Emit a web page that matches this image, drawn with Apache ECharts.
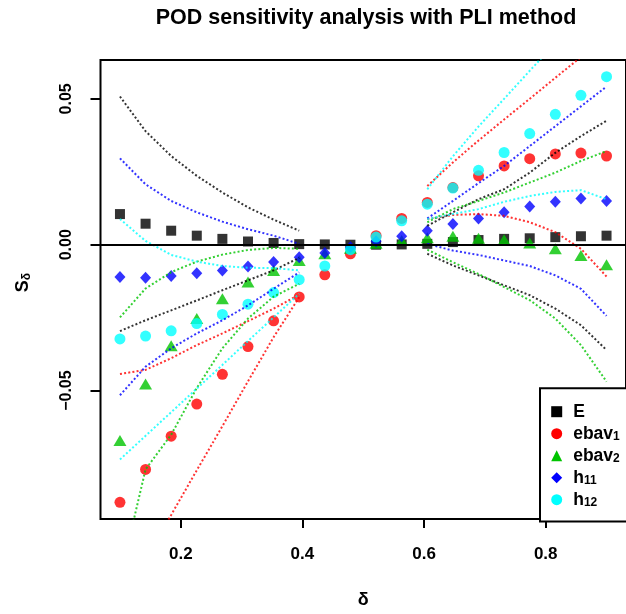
<!DOCTYPE html>
<html><head><meta charset="utf-8">
<script src="https://cdn.jsdelivr.net/npm/echarts@6/dist/echarts.min.js"></script>
<style>html,body{margin:0;padding:0;background:#fff}#c{width:626px;height:614px}</style>
</head><body><div id="c"></div>
<script>
// ---- data ----
const delta = [0.1, 0.1421, 0.1842, 0.2263, 0.2684, 0.3105, 0.3526, 0.3947, 0.4368, 0.4789,
               0.5211, 0.5632, 0.6053, 0.6474, 0.6895, 0.7316, 0.7737, 0.8158, 0.8579, 0.9];
const seriesNames = ['E', 'ebav1', 'ebav2', 'h11', 'h12'];

const E     = [0.0105, 0.0072, 0.0048, 0.0031, 0.0020, 0.0011, 0.0006, 0.0002, 0.0001, 0.0000, 0.0000, 0.0001, 0.0003, 0.0009, 0.0016, 0.0020, 0.0022, 0.0026, 0.0029, 0.0031];
const ebav1 = [-0.0883, -0.0770, -0.0656, -0.0546, -0.0444, -0.0349, -0.0261, -0.0179, -0.0103, -0.0031, 0.0031, 0.0090, 0.0145, 0.0196, 0.0236, 0.0270, 0.0295, 0.0311, 0.0314, 0.0304];
const ebav2 = [-0.0671, -0.0477, -0.0346, -0.0253, -0.0185, -0.0128, -0.0088, -0.0054, -0.0031, -0.0012, 0.0005, 0.0014, 0.0024, 0.0029, 0.0022, 0.0017, 0.0006, -0.0014, -0.0037, -0.0069];
const h11   = [-0.0111, -0.0113, -0.0107, -0.0098, -0.0088, -0.0075, -0.0059, -0.0043, -0.0028, -0.0009, 0.0012, 0.0029, 0.0048, 0.0071, 0.0090, 0.0111, 0.0131, 0.0147, 0.0158, 0.0150];
const h12   = [-0.0323, -0.0313, -0.0295, -0.0270, -0.0239, -0.0204, -0.0164, -0.0120, -0.0073, -0.0017, 0.0026, 0.0082, 0.0139, 0.0194, 0.0255, 0.0316, 0.0381, 0.0447, 0.0512, 0.0576];

// dotted bounds: left part (first 8 deltas) and right part (last 8 deltas)
const E_loL = [-0.0296, -0.0259, -0.0225, -0.0191, -0.0156, -0.0122, -0.0088, -0.0045];
const E_hiL = [0.0508, 0.0389, 0.0304, 0.0236, 0.0179, 0.0128, 0.0086, 0.0048];
const E_loR = [-0.0031, -0.0071, -0.0105, -0.0139, -0.0173, -0.0219, -0.0276, -0.0361];
const E_hiR = [0.0065, 0.0111, 0.0156, 0.0190, 0.0247, 0.0315, 0.0372, 0.0425];

const ebav1_loL = [-0.1228, -0.1078, -0.0926, -0.0773, -0.0622, -0.0468, -0.0317, -0.0180];
const ebav1_hiL = [-0.0443, -0.0429, -0.0389, -0.0344, -0.0304, -0.0262, -0.0219, -0.0171];
const ebav1_loR = [0.0088, 0.0102, 0.0105, 0.0099, 0.0077, 0.0043, -0.0014, -0.0109];
const ebav1_hiR = [0.0201, 0.0282, 0.0357, 0.0429, 0.0500, 0.0572, 0.0643, 0.0715];

const ebav2_loL = [-0.1145, -0.0770, -0.0651, -0.0491, -0.0355, -0.0253, -0.0178, -0.0134];
const ebav2_hiL = [-0.0249, -0.0150, -0.0094, -0.0058, -0.0034, -0.0018, -0.0011, -0.0014];
const ebav2_loR = [-0.0017, -0.0060, -0.0100, -0.0145, -0.0190, -0.0253, -0.0344, -0.0469];
const ebav2_hiR = [0.0077, 0.0122, 0.0150, 0.0179, 0.0213, 0.0247, 0.0287, 0.0321];

const h11_loL = [-0.0516, -0.0418, -0.0355, -0.0304, -0.0259, -0.0208, -0.0151, -0.0095];
const h11_hiL = [0.0296, 0.0207, 0.0150, 0.0111, 0.0079, 0.0053, 0.0031, 0.0003];
const h11_loR = [0.0003, -0.0020, -0.0035, -0.0054, -0.0073, -0.0105, -0.0151, -0.0244];
const h11_hiR = [0.0090, 0.0150, 0.0211, 0.0270, 0.0338, 0.0406, 0.0474, 0.0542];

const h12_loL = [-0.0736, -0.0655, -0.0574, -0.0493, -0.0412, -0.0330, -0.0249, -0.0168];
const h12_hiL = [0.0088, 0.0013, -0.0035, -0.0058, -0.0073, -0.0079, -0.0080, -0.0088];
const h12_loR = [0.0088, 0.0105, 0.0122, 0.0147, 0.0167, 0.0181, 0.0187, 0.0156];
const h12_hiR = [0.0190, 0.0303, 0.0405, 0.0500, 0.0596, 0.0691, 0.0787, 0.0882];

const xTicks = [0.2, 0.4, 0.6, 0.8];
const yTicks = [-0.05, 0, 0.05];

// ---- build ----
const FONT = '"Liberation Sans", Arial, Helvetica, sans-serif';
const values = {E, ebav1, ebav2, h11, h12};
const bands = {
  E: [E_loL, E_hiL, E_loR, E_hiR],
  ebav1: [ebav1_loL, ebav1_hiL, ebav1_loR, ebav1_hiR],
  ebav2: [ebav2_loL, ebav2_hiL, ebav2_loR, ebav2_hiR],
  h11: [h11_loL, h11_hiL, h11_loR, h11_hiR],
  h12: [h12_loL, h12_hiL, h12_loR, h12_hiR]
};
const colors = {E: '#000000', ebav1: '#ff0000', ebav2: '#00c400', h11: '#0000ff', h12: '#00ffff'};
const symbols = {
  E: ['rect', 10], ebav1: ['circle', 11], ebav2: ['triangle', [13, 11]],
  h11: ['diamond', [11, 12]], h12: ['circle', 11]
};
const legendLabels = {
  E: '{m|E}', ebav1: '{m|ebav}{s|1}', ebav2: '{m|ebav}{s|2}', h11: '{m|h}{s|11}', h12: '{m|h}{s|12}'
};
const xLeft = delta.slice(0, 8), xRight = delta.slice(12);
const zip = (xs, ys) => xs.map((x, i) => [x, ys[i]]);

const series = [];
seriesNames.forEach((n, idx) => {
  const s = {
    type: 'scatter', name: n, data: zip(delta, values[n]),
    symbol: symbols[n][0], symbolSize: symbols[n][1],
    itemStyle: {color: colors[n], opacity: 0.8},
    z: 3, silent: true
  };
  if (idx === 0) {
    s.markLine = {
      silent: true, symbol: 'none', label: {show: false}, animation: false,
      lineStyle: {color: '#000', width: 2, type: 'solid'},
      data: [{yAxis: 0}]
    };
  }
  series.push(s);
});
seriesNames.forEach(n => {
  bands[n].forEach((b, k) => {
    series.push({
      type: 'line', name: n + '_bound' + k, data: zip(k < 2 ? xLeft : xRight, b),
      showSymbol: false, symbol: 'none', clip: true, silent: true, z: 4,
      lineStyle: {color: colors[n], width: 2, type: [2, 2.2], opacity: 0.8}
    });
  });
});

const chart = echarts.init(document.getElementById('c'), null, {renderer: 'canvas'});
chart.setOption({
  animation: false,
  backgroundColor: '#fff',
  title: {
    text: 'POD sensitivity analysis with PLI method',
    left: 366, top: 7, padding: 0, textAlign: 'center',
    textStyle: {fontFamily: FONT, fontSize: 21.5, fontWeight: 'bold', color: '#000'}
  },
  grid: {
    left: 100.5, top: 60, width: 527, height: 461.5, show: true,
    borderColor: '#000', borderWidth: 2, backgroundColor: 'transparent'
  },
  xAxis: {
    type: 'value', min: 0.068, max: 0.932,
    axisLine: {show: false, onZero: false}, splitLine: {show: false},
    axisTick: {show: true, customValues: xTicks, length: 9, lineStyle: {color: '#000', width: 2}},
    axisLabel: {
      customValues: xTicks, formatter: v => v.toFixed(1), margin: 27,
      fontFamily: FONT, fontSize: 17, fontWeight: 'bold', color: '#000'
    },
    name: 'δ', nameLocation: 'middle', nameGap: 72,
    nameTextStyle: {fontFamily: FONT, fontSize: 18, fontWeight: 'bold', color: '#000'}
  },
  yAxis: {
    type: 'value', min: -0.0940, max: 0.0633,
    axisLine: {show: false, onZero: false}, splitLine: {show: false},
    axisTick: {show: true, customValues: yTicks, length: 10, lineStyle: {color: '#000', width: 2}},
    axisLabel: {
      customValues: yTicks, rotate: 90, margin: 26,
      formatter: v => (v < 0 ? '\u2212' : '') + Math.abs(v).toFixed(2),
      fontFamily: FONT, fontSize: 16, fontWeight: 'bold', color: '#000'
    },
    name: '{S|S}{d|δ}', nameLocation: 'middle', nameRotate: 90, nameGap: 68,
    nameTextStyle: {
      padding: [0, 0, 0, 14],
      rich: {
        S: {fontFamily: FONT, fontSize: 18, fontWeight: 'bold', color: '#000', lineHeight: 18},
        d: {fontFamily: FONT, fontSize: 12, fontWeight: 'bold', color: '#000', lineHeight: 8, verticalAlign: 'bottom'}
      }
    }
  },
  legend: {
    orient: 'vertical', left: 551.2, top: 402.7, padding: 0, itemGap: 4,
    itemWidth: 11, itemHeight: 11, selectedMode: false, z: 6,
    data: seriesNames.map(n => ({
      name: n, icon: symbols[n][0], itemStyle: {color: colors[n], opacity: 1}
    })),
    formatter: n => legendLabels[n],
    textStyle: {
      fontFamily: FONT, fontSize: 17.5, fontWeight: 'bold', color: '#000', lineHeight: 18,
      rich: {
        m: {fontFamily: FONT, fontSize: 17.5, fontWeight: 'bold', color: '#000', lineHeight: 18, padding: [0, 0, 0, 6]},
        s: {fontFamily: FONT, fontSize: 12, fontWeight: 'bold', color: '#000', lineHeight: 8, verticalAlign: 'bottom'}
      }
    }
  },
  graphic: [{
    type: 'rect', z: 5, silent: true,
    shape: {x: 540, y: 388.3, width: 100, height: 133.2},
    style: {fill: '#fff', stroke: '#000', lineWidth: 2}
  }],
  series: series
});
</script>
</body></html>
